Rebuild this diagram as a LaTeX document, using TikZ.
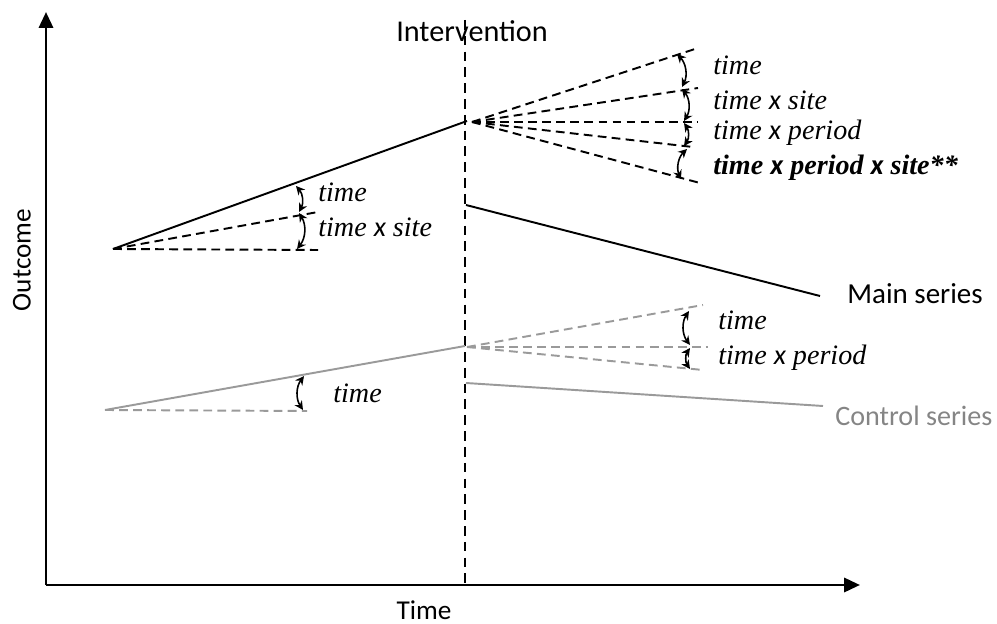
\documentclass[tikz,border=0pt]{standalone}
\usepackage{fontspec}
\setmainfont{Liberation Serif}
\newfontfamily\calfont{Carlito}
\usetikzlibrary{arrows.meta}
\definecolor{ctrlline}{HTML}{9A9A9A}
\definecolor{ctrltext}{HTML}{858585}
\newcommand{\xx}{{\calfont x}}
\begin{document}
\begin{tikzpicture}[x=0.02cm,y=-0.02cm,
  axis/.style={line width=1.6pt,-{Triangle[length=9pt,width=8pt]}},
  ser/.style={line width=1.1pt},
  dsh/.style={line width=1.1pt,dash pattern=on 5pt off 3pt},
  vdsh/.style={line width=0.7pt,dash pattern=on 5.5pt off 3.5pt},
  angarr/.style={{Stealth[length=5pt,width=5pt]}-{Stealth[length=5pt,width=5pt]},line width=0.9pt},
  lab/.style={font=\fontsize{16}{19}\selectfont\itshape,anchor=base west,inner sep=0pt},
  sans/.style={font=\calfont\fontsize{15.5}{18}\selectfont,inner sep=0pt}]
\useasboundingbox (0,0) rectangle (997,624);
% axes
\coordinate (O) at (46,585);
\coordinate (Ytop) at (46,12);
\coordinate (Xend) at (860,585);
\draw[axis] (O) -- (Ytop);
\draw[axis] (O) -- (Xend);
\node[sans,rotate=90] (outcome) at (22,260) {Outcome};
\node[sans] (time) at (424,610) {Time};
% intervention line
\coordinate (Vtop) at (465,20);
\coordinate (Vbot) at (465,585);
\draw[vdsh] (Vtop) -- (Vbot);
\node[sans,font=\calfont\fontsize{17.2}{20}\selectfont] (interv) at (472,31) {Intervention};
% main series
\coordinate (M0) at (113,249);
\coordinate (M1) at (467,121);
\coordinate (Md1) at (318,212);
\coordinate (Md2) at (318,250);
\draw[ser] (M0) -- (M1);
\draw[dsh] (M0) -- (Md1);
\draw[dsh] (M0) -- (Md2);
\coordinate (a1t) at (296,186);
\coordinate (a1b) at (299,212);
\coordinate (a2t) at (299,213);
\coordinate (a2b) at (297,249);
\draw[angarr] (a1t) to[bend left=35] (a1b);
\draw[angarr] (a2t) to[bend left=35] (a2b);
\node[lab] (l1) at (318,202) {time};
\node[lab] (l2) at (318,237) {time \xx{} site};
% main fan
\coordinate (F0) at (472,122);
\coordinate (F1) at (698,48);
\coordinate (F2) at (698,88);
\coordinate (F3) at (697,122);
\coordinate (F4) at (693,147);
\coordinate (F5) at (700,183);
\foreach \f in {F1,F2,F3,F4,F5} \draw[dsh] (F0) -- (\f);
\coordinate (b1t) at (677,54);
\coordinate (b1b) at (682,87);
\coordinate (b2t) at (682,89);
\coordinate (b2b) at (684,121);
\coordinate (b3t) at (684,123);
\coordinate (b3b) at (684,146);
\coordinate (b4t) at (687,149);
\coordinate (b4b) at (681,179);
\draw[angarr] (b1t) to[bend left=35] (b1b);
\draw[angarr] (b2t) to[bend left=35] (b2b);
\draw[angarr] (b3t) to[bend left=35] (b3b);
\draw[angarr] (b4t) to[bend right=35] (b4b);
\node[lab] (f1) at (713,75) {time};
\node[lab] (f2) at (713,110) {time \xx{} site};
\node[lab] (f3) at (713,140) {time \xx{} period};
\node[lab,font=\fontsize{16}{19}\selectfont\bfseries\itshape] (f4) at (713,175) {time {\calfont\bfseries x} period {\calfont\bfseries x} site**};
% main post
\coordinate (P0) at (466,205);
\coordinate (P1) at (820,296);
\draw[ser] (P0) -- (P1);
\node[sans,anchor=west,font=\calfont\fontsize{16.5}{19}\selectfont] (mainlab) at (847,294) {Main series};
% control series
\begin{scope}[ctrlline]
\coordinate (C0) at (105,410);
\coordinate (C1) at (465,346);
\coordinate (Cd) at (307,411);
\draw[ser] (C0) -- (C1);
\draw[dsh] (C0) -- (Cd);
\coordinate (G0) at (467,347);
\coordinate (G1) at (703,305);
\coordinate (G2) at (708,347);
\coordinate (G3) at (703,370);
\foreach \g in {G1,G2,G3} \draw[dsh] (G0) -- (\g);
\coordinate (Q0) at (466,383);
\coordinate (Q1) at (823,406);
\draw[ser] (Q0) -- (Q1);
\end{scope}
\coordinate (c1t) at (304,376);
\coordinate (c1b) at (303,410);
\draw[angarr] (c1t) to[bend right=35] (c1b);
\node[lab] (cl1) at (333,403) {time};
\coordinate (d1t) at (689,311);
\coordinate (d1b) at (690,345);
\coordinate (d2t) at (690,348);
\coordinate (d2b) at (690,369);
\draw[angarr] (d1t) to[bend right=35] (d1b);
\draw[angarr] (d2t) to[bend right=35] (d2b);
\node[lab] (g1) at (718,330) {time};
\node[lab] (g2) at (718,365) {time \xx{} period};
\node[sans,anchor=west,text=ctrltext,font=\calfont\fontsize{16}{19}\selectfont] (ctrllab) at (835,416) {Control series};
\end{tikzpicture}
\end{document}
